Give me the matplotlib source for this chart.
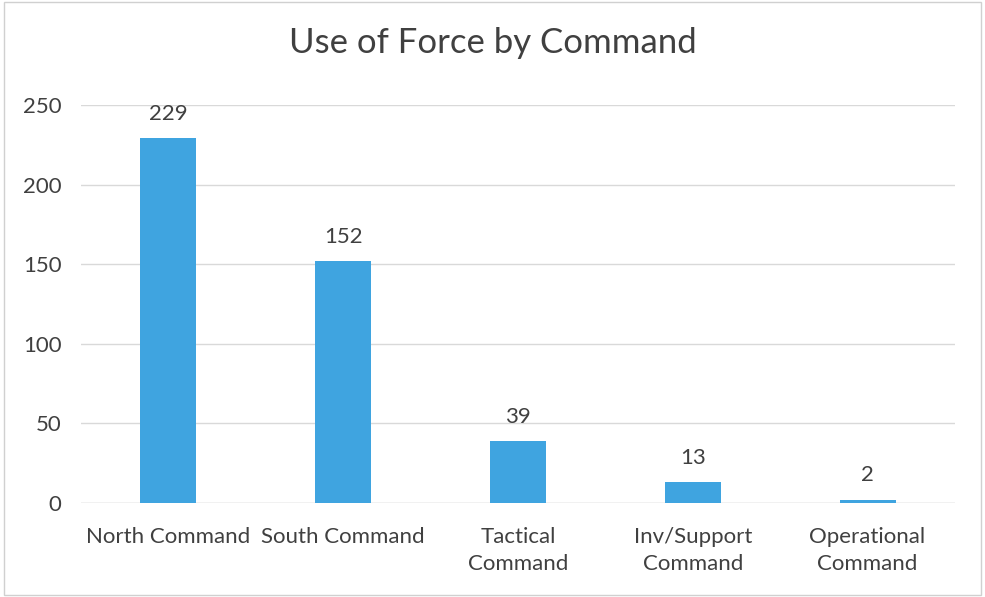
import matplotlib.pyplot as plt
from matplotlib.patches import Rectangle

categories = ["North Command", "South Command", "Tactical\nCommand",
              "Inv/Support\nCommand", "Operational\nCommand"]
counts = [229, 152, 39, 13, 2]
y_ticks = [0, 50, 100, 150, 200, 250]

plt.rcParams['font.family'] = ['Lato', 'DejaVu Sans']

fig = plt.figure(figsize=(9.85, 5.97), dpi=100)
ax = fig.add_axes([0.0822, 0.1575, 0.8873, 0.6667])

bar_color = "#3FA4E0"
x = range(len(categories))
bars = ax.bar(x, counts, width=0.32, color=bar_color, zorder=3)

for xi, v in zip(x, counts):
    ax.text(xi, v + 9, str(v), ha="center", va="bottom", fontsize=16, color="#404040")

ax.set_xlim(-0.5, len(categories) - 0.5)
ax.set_ylim(0, 250)
ax.set_yticks(y_ticks)
ax.set_xticks(list(x))
ax.set_xticklabels(categories, fontsize=16, color="#404040", linespacing=1.45)
ax.tick_params(axis="y", labelsize=16, labelcolor="#404040", length=0, pad=14)
ax.tick_params(axis="x", length=0, pad=17)
ax.yaxis.grid(True, color="#D9D9D9", linewidth=1, zorder=0)
for s in ax.spines.values():
    s.set_visible(False)
ax.axhline(0, color="#D9D9D9", linewidth=1, zorder=2)

fig.suptitle("Use of Force by Command", y=0.955, fontsize=25, color="#404040")

fig.patches.append(Rectangle((0.004, 0.004), 0.992, 0.992, transform=fig.transFigure,
                             fill=False, edgecolor="#D0D0D0", linewidth=1))

fig.savefig("out.png", dpi=100)
